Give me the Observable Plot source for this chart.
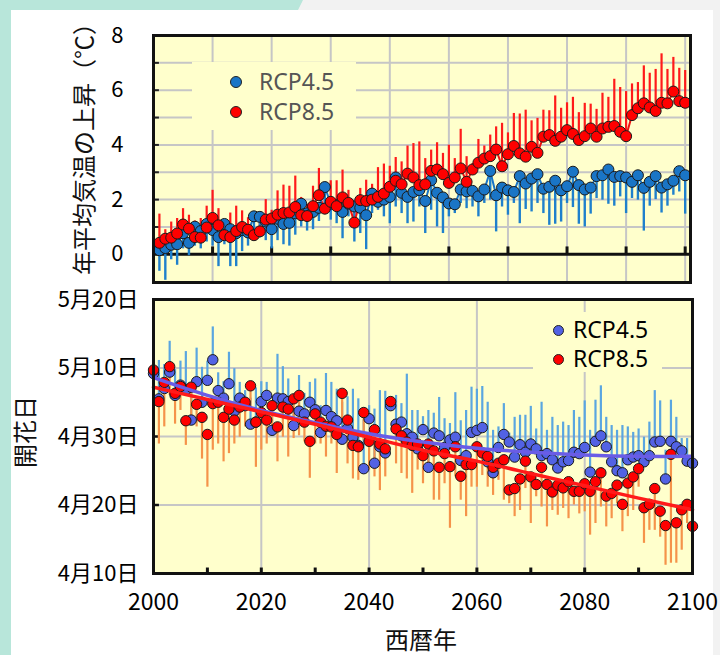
<!DOCTYPE html>
<html><head><meta charset="utf-8">
<script src="https://cdn.jsdelivr.net/npm/d3@7"></script>
<script src="https://cdn.jsdelivr.net/npm/@observablehq/plot@0.6"></script>
<style>
body{margin:0;width:720px;height:655px;overflow:hidden;background:#f2f2f2;position:relative;font-family:"Noto Sans CJK JP","Noto Sans",sans-serif;}
#teal{position:absolute;left:0;top:0;width:720px;height:655px;background:#b8e6da;clip-path:polygon(0 0,303px 0,298px 10px,11px 10px,11px 655px,0 655px);}
#card{position:absolute;left:11px;top:10px;width:702px;height:645px;background:#fff;}
.abs{position:absolute;}
.vt{position:absolute;transform:translate(-50%,-50%) rotate(-90deg);white-space:nowrap;color:#111;}
.lg{position:absolute;background:#ffffcc;}
.dot{position:absolute;border-radius:50%;border:1px solid #222;box-sizing:border-box;}
.lt{position:absolute;font-family:"Noto Sans",sans-serif;white-space:nowrap;line-height:1;}
</style></head>
<body>
<div id="teal"></div>
<div id="card"></div>
<div id="top" class="abs" style="left:0;top:0"></div>
<div id="bot" class="abs" style="left:0;top:290px"></div>
<div class="vt" style="left:82px;top:143px;font-size:24px">年平均気温の上昇（℃）</div>
<div class="vt" style="left:23px;top:432px;font-size:24px">開花日</div>
<div class="abs" style="left:421px;top:639px;transform:translate(-50%,-50%);font-size:24px;line-height:1;color:#111">西暦年</div>
<div class="lg" style="left:192px;top:62px;width:164px;height:68px"></div>
<div class="dot" style="left:230px;top:76px;width:12px;height:12px;background:#1a75c6"></div>
<div class="lt" style="left:259px;top:70px;font-size:23px;color:#555">RCP4.5</div>
<div class="dot" style="left:230px;top:106px;width:12px;height:12px;background:#ff0000"></div>
<div class="lt" style="left:259px;top:100px;font-size:23px;color:#555">RCP8.5</div>
<div class="lg" style="left:533px;top:312px;width:129px;height:60px"></div>
<div class="dot" style="left:553px;top:325px;width:11px;height:11px;background:#5262e4"></div>
<div class="lt" style="left:573px;top:318px;font-size:23px;color:#000">RCP4.5</div>
<div class="dot" style="left:553px;top:354px;width:11px;height:11px;background:#ff0000"></div>
<div class="lt" style="left:573px;top:347px;font-size:23px;color:#000">RCP8.5</div>
<script>
// ---- top panel: annual mean temperature rise (2011-2100)
const topYears = d3.range(2011, 2101);
const t85 = [
0.42,0.57,0.61,0.76,1.09,0.94,0.63,0.61,0.98,1.33,
1.06,0.70,0.63,0.85,1.00,0.90,0.70,0.84,1.27,1.31,
1.45,1.51,1.53,1.73,1.43,1.40,1.76,2.16,1.67,1.92,
1.76,2.08,1.88,1.16,1.98,1.95,2.00,2.10,2.22,2.47,
2.69,2.56,2.95,2.81,2.53,2.56,3.05,3.10,2.93,2.61,
2.81,3.14,2.65,3.10,3.35,3.50,3.59,3.83,3.22,3.66,
3.96,3.69,3.57,3.93,3.71,4.30,4.36,4.15,4.30,4.54,
4.40,4.18,4.32,4.60,4.30,4.60,4.66,4.69,4.48,4.32,
5.09,5.34,5.52,5.37,5.24,5.54,5.52,5.95,5.60,5.54];
const t85hi = [
1.47,0.90,1.18,1.31,1.67,1.43,1.22,1.31,1.76,2.34,
1.67,1.27,1.51,1.76,1.59,1.34,1.06,1.15,2.00,1.61,
2.32,2.53,2.49,2.86,2.08,1.83,2.49,3.14,2.59,2.69,
2.69,3.08,2.34,1.64,2.41,2.71,2.56,3.17,3.30,3.22,
3.54,3.38,3.96,4.05,4.11,3.50,3.81,4.08,3.69,3.99,
3.50,4.57,3.57,3.32,4.20,3.96,4.36,4.66,4.79,4.44,
5.15,5.13,5.27,4.88,4.97,5.27,5.25,5.79,5.34,5.54,
5.74,5.18,5.52,5.49,5.30,5.89,5.74,6.40,6.10,5.95,
6.23,6.28,6.89,6.62,6.76,7.33,6.76,7.20,6.80,6.72];
const t45 = [
0.15,0.23,0.35,0.37,0.77,0.42,1.01,0.85,1.11,0.89,
0.63,1.11,0.92,0.77,0.89,0.80,1.39,1.37,1.20,0.92,
1.30,1.11,1.15,1.50,1.85,1.50,1.55,1.70,2.46,1.85,
1.80,1.55,1.85,1.75,1.70,1.43,2.22,1.92,2.00,2.10,
2.81,2.25,2.10,2.28,2.35,1.95,2.71,2.25,2.08,1.86,
1.83,2.37,2.30,2.32,2.12,2.37,3.05,2.16,2.44,2.34,
2.28,2.86,2.59,2.77,2.93,2.40,2.47,2.69,2.34,2.49,
3.02,2.53,2.37,2.44,2.86,2.89,3.10,2.83,2.86,2.81,
2.65,2.89,2.43,2.65,2.86,2.44,2.56,2.69,3.04,2.89];
const t45lo = [
-0.62,-0.95,-0.20,-0.40,0.20,-0.05,0.30,0.20,0.45,0.30,
-0.45,0.35,-0.45,-0.45,0.10,0.30,0.50,0.60,0.50,0.20,
0.50,0.35,0.30,0.70,1.00,0.85,0.90,1.20,1.45,1.25,
1.12,0.57,1.37,0.45,0.76,0.17,1.49,1.61,1.37,1.12,
1.73,1.49,1.12,1.18,1.73,0.76,1.61,1.00,0.76,1.37,
1.49,1.86,1.67,1.73,1.37,1.86,1.98,0.82,1.73,1.43,
1.86,1.12,1.64,1.55,1.86,1.49,1.06,1.10,1.18,1.86,
1.71,1.10,1.00,1.47,2.04,1.98,1.83,1.76,2.10,1.49,
2.04,1.98,0.85,1.76,2.00,1.51,1.76,2.16,2.28,1.47];
const tempTicks = [0, 2, 4, 6, 8];

// ---- bottom panel: flowering date (day of year), 2000-2100
const botYears = d3.range(2000, 2101);
const b45 = [
129.2,125.5,127.0,129.4,126.0,127.5,126.8,122.4,128.0,125.0,
128.2,131.2,126.7,125.6,127.7,123.7,125.6,124.5,121.8,122.1,
125.1,126.0,120.9,125.6,125.5,125.1,121.6,123.7,123.3,125.0,
123.9,120.6,123.8,122.9,122.3,119.6,121.2,119.9,118.7,115.3,
122.6,116.1,118.5,117.6,124.5,121.8,122.1,120.4,119.9,118.2,
121.0,115.5,120.5,120.1,118.4,119.5,119.9,116.5,117.2,120.6,
120.9,121.3,116.3,114.7,118.4,120.3,119.2,117.0,118.8,117.7,
118.9,118.2,117.2,117.5,116.6,115.4,116.3,116.5,117.7,117.5,
118.4,114.8,119.3,120.1,118.5,116.3,115.0,114.7,116.6,117.0,
117.2,116.3,117.2,119.2,119.3,113.8,119.3,118.5,117.9,116.4,116.1];
const b45hi = [
135.0,131.1,130.5,133.9,129.8,131.0,132.4,126.5,132.9,130.1,
131.0,136.0,129.3,128.0,132.3,129.9,127.9,126.7,125.6,127.1,
128.0,127.9,124.0,132.0,130.2,128.4,124.0,128.9,126.3,127.9,
128.4,124.5,129.2,127.9,126.9,125.0,125.8,126.9,125.5,122.4,
124.5,124.0,126.7,126.6,125.5,126.0,124.8,129.1,123.8,123.8,
122.9,123.8,123.4,125.7,122.6,121.9,126.4,122.3,123.8,127.2,
126.9,127.3,125.0,120.9,121.4,124.8,120.5,122.8,123.1,123.1,
124.4,121.1,125.0,120.9,122.8,121.6,122.1,121.6,123.8,122.8,
125.2,120.9,125.3,127.4,122.8,121.6,120.9,121.6,121.4,120.6,
121.1,119.9,122.1,126.7,125.2,118.0,125.3,122.8,119.7,119.7,119.5];
const b85 = [
129.7,125.1,127.9,130.2,126.3,127.3,122.3,127.2,124.7,122.8,
120.3,124.8,125.0,122.8,124.0,122.4,124.3,125.0,127.4,122.1,
123.5,122.4,124.5,121.4,124.3,124.0,125.5,126.0,122.1,119.3,
123.3,122.1,121.5,121.4,120.3,126.3,122.4,118.7,118.5,123.5,
119.3,121.0,118.9,118.2,125.1,121.1,120.1,119.2,118.7,118.9,
117.2,118.9,117.9,115.5,117.5,115.6,118.5,114.2,115.9,115.9,
118.5,117.6,117.1,115.5,116.1,116.6,112.2,112.4,113.8,116.4,
114.1,113.0,115.5,113.0,111.9,112.9,112.5,113.4,112.0,112.0,
113.1,112.0,113.4,114.7,111.3,111.7,112.9,110.1,113.2,114.1,
115.3,109.6,110.1,112.4,109.1,107.0,117.4,107.4,109.3,110.1,106.9];
const b85lo = [
123.0,118.9,121.4,126.0,121.8,123.8,118.7,122.8,121.4,116.7,
112.6,118.0,118.9,116.3,117.5,118.9,119.9,121.4,123.8,115.5,
118.0,118.9,121.4,116.3,119.9,117.0,119.7,120.1,119.2,113.9,
118.9,118.9,117.0,118.9,114.6,122.6,116.0,113.8,113.6,119.4,
115.1,114.1,112.1,114.1,123.8,116.0,114.6,113.8,111.7,115.1,
113.1,115.1,110.7,110.7,113.1,106.6,114.1,110.7,108.3,112.6,
112.6,114.3,112.6,111.4,113.6,110.7,110.2,108.3,109.2,112.4,
107.3,111.2,109.7,106.8,109.2,108.5,109.5,108.0,110.0,108.7,
109.0,105.6,107.3,109.7,106.8,108.0,110.2,106.1,108.3,109.2,
112.6,104.4,106.3,106.3,105.3,101.2,101.5,101.5,103.4,107.3,104.6];
const trendYears = [2000,2010,2020,2030,2040,2050,2060,2070,2080,2090,2100];
const trend45 = [128.6,126.0,123.8,122.0,120.4,119.2,118.3,117.7,117.3,117.1,117.1];
const trend85 = [127.2,125.4,123.6,121.8,119.9,118.0,116.4,114.6,112.8,111.0,109.3];
const dateTicks = [100, 110, 120, 130, 140];
const dateLabels = ["4月10日","4月20日","4月30日","5月10日","5月20日"];
const yearLabels = [2000, 2020, 2040, 2060, 2080, 2100];

const topData = topYears.map((year, i) => ({year, v45: t45[i], lo45: t45lo[i], v85: t85[i], hi85: t85hi[i]}));
const botData = botYears.map((year, i) => ({year, v45: b45[i], hi45: b45hi[i], v85: b85[i], lo85: b85lo[i]}));
const trendData = trendYears.map((year, i) => ({year, t45: trend45[i], t85: trend85[i]}));

const style = {fontFamily: '"Noto Sans CJK JP", "Noto Sans", sans-serif', background: "transparent", overflow: "visible", color: "#000"};
const GRID = "#c6c6c6";
const YEL = "#ffffcc";

const topPlot = Plot.plot({
  width: 720, height: 290,
  marginLeft: 153, marginRight: 30, marginTop: 35, marginBottom: 8,
  style,
  x: {domain: [2010, 2100.9], axis: null},
  y: {domain: [-1.03, 8]},
  marks: [
    Plot.frame({fill: YEL, stroke: null}),
    Plot.gridY(d3.range(1, 8), {stroke: GRID, strokeOpacity: 1, strokeWidth: 2}),
    Plot.gridX(d3.range(2020, 2101, 10), {stroke: GRID, strokeOpacity: 1, strokeWidth: 2}),
    Plot.ruleY(d3.range(1, 8), {x1: 2010, x2: 2011, stroke: "#222", strokeWidth: 2}),
    Plot.ruleY([0], {stroke: "#111", strokeWidth: 3}),
    Plot.ruleX(d3.range(2020, 2101, 10), {y1: 0, y2: 0.27, stroke: "#111", strokeWidth: 3}),
    Plot.ruleX(topData, {x: "year", y1: "v85", y2: "hi85", stroke: "#ff1a1a", strokeWidth: 2.2}),
    Plot.ruleX(topData, {x: "year", y1: "lo45", y2: "v45", stroke: "#1f80cc", strokeWidth: 2.4}),
    Plot.line(topData, {x: "year", y: "v85", stroke: "#ee1111", strokeWidth: 2}),
    Plot.line(topData, {x: "year", y: "v45", stroke: "#1a75c6", strokeWidth: 2}),
    Plot.dot(topData, {x: "year", y: "v45", r: 5.5, fill: "#1a75c6", stroke: "#1a1a1a", strokeWidth: 1}),
    Plot.dot(topData, {x: "year", y: "v85", r: 5.5, fill: "#ff0000", stroke: "#1a1a1a", strokeWidth: 1}),
    Plot.frame({stroke: "#111", strokeWidth: 3}),
    Plot.axisY({ticks: tempTicks, tickSize: 0, tickPadding: 30, fontSize: 22, label: null, tickFormat: d => String(d)})
  ]
});
document.getElementById("top").append(topPlot);

const botPlot = Plot.plot({
  width: 720, height: 335,
  marginLeft: 153, marginRight: 28, marginTop: 9, marginBottom: 52,
  style,
  x: {domain: [2000, 2100]},
  y: {domain: [100, 140]},
  marks: [
    Plot.frame({fill: YEL, stroke: null}),
    Plot.gridY([110, 120, 130], {stroke: GRID, strokeOpacity: 1, strokeWidth: 2}),
    Plot.gridX([2020, 2040, 2060, 2080], {stroke: GRID, strokeOpacity: 1, strokeWidth: 2}),
    Plot.ruleY([110, 120, 130], {x1: 2000, x2: 2001.1, stroke: "#111", strokeWidth: 2.5}),
    Plot.ruleX(d3.range(2010, 2100, 10), {y1: 100, y2: 100.8, stroke: "#111", strokeWidth: 3}),
    Plot.ruleX(botData, {x: "year", y1: "v45", y2: "hi45", stroke: "#5aa6e0", strokeWidth: 2.2}),
    Plot.ruleX(botData, {x: "year", y1: "lo85", y2: "v85", stroke: "#f5934a", strokeWidth: 2.2}),
    Plot.dot(botData, {x: "year", y: "v45", r: 5.2, fill: "#5262e4", stroke: "#1a1a1a", strokeWidth: 1}),
    Plot.dot(botData, {x: "year", y: "v85", r: 5.2, fill: "#ff0000", stroke: "#1a1a1a", strokeWidth: 1}),
    Plot.line(trendData, {x: "year", y: "t45", curve: "natural", stroke: "#6a5ce6", strokeWidth: 3.5}),
    Plot.line(trendData, {x: "year", y: "t85", curve: "natural", stroke: "#ff1a1a", strokeWidth: 3.5}),
    Plot.frame({stroke: "#111", strokeWidth: 3}),
    Plot.axisY({ticks: dateTicks, tickSize: 0, tickPadding: 15, fontSize: 22, label: null, tickFormat: d => dateLabels[dateTicks.indexOf(d)]}),
    Plot.axisX({ticks: yearLabels, tickSize: 0, tickPadding: 20, fontSize: 23, label: null, tickFormat: d => String(d)})
  ]
});
document.getElementById("bot").append(botPlot);
</script>
</body></html>
